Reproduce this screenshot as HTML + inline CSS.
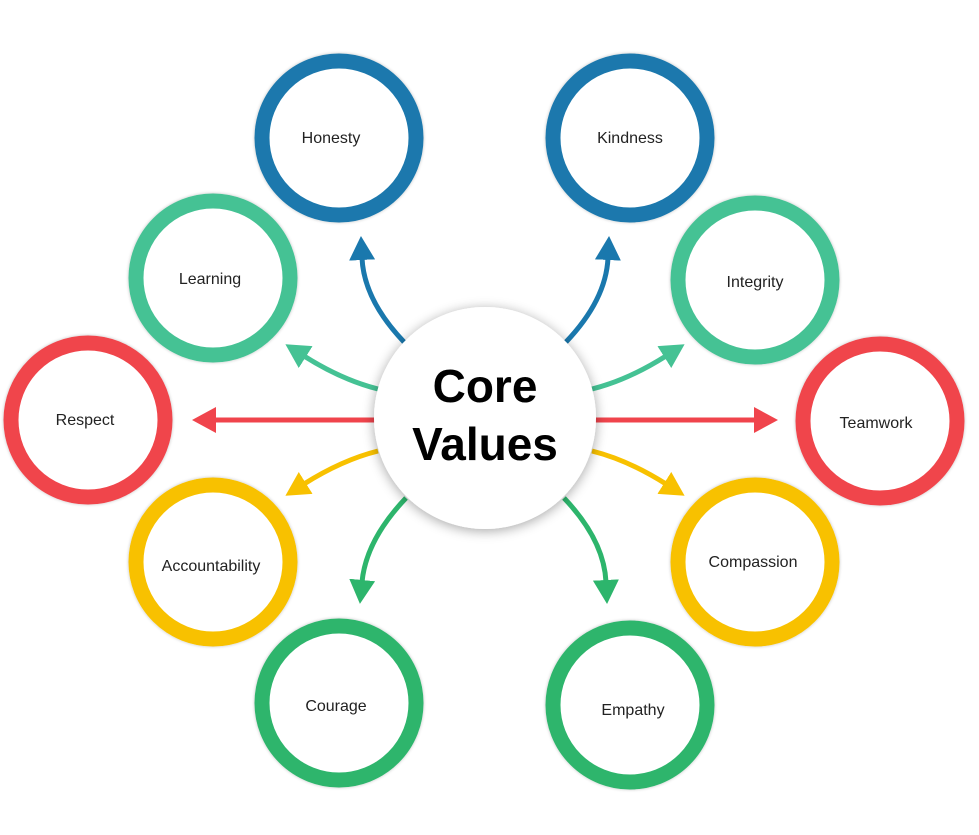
<!DOCTYPE html>
<html><head><meta charset="utf-8">
<style>
html,body{margin:0;padding:0;background:#fff;}
svg{display:block;}
text{font-family:"Liberation Sans",sans-serif;}
</style></head>
<body>
<svg width="979" height="835" viewBox="0 0 979 835" xmlns="http://www.w3.org/2000/svg">
<defs>
  <filter id="sh" x="-30%" y="-30%" width="160%" height="160%">
    <feGaussianBlur in="SourceAlpha" stdDeviation="6"/>
    <feOffset dx="0" dy="2"/>
    <feComponentTransfer><feFuncA type="linear" slope="0.35"/></feComponentTransfer>
    <feMerge><feMergeNode/><feMergeNode in="SourceGraphic"/></feMerge>
  </filter>
  <filter id="rs" x="-10%" y="-10%" width="120%" height="120%">
    <feGaussianBlur in="SourceAlpha" stdDeviation="1.5"/>
    <feComponentTransfer><feFuncA type="linear" slope="0.25"/></feComponentTransfer>
    <feMerge><feMergeNode/><feMergeNode in="SourceGraphic"/></feMerge>
  </filter>
  <marker id="mb" markerUnits="userSpaceOnUse" markerWidth="30" markerHeight="30" refX="2" refY="13" orient="auto"><path d="M0,0 L24,13 L0,26 Z" fill="#1a78ad"/></marker>
  <marker id="mt" markerUnits="userSpaceOnUse" markerWidth="30" markerHeight="30" refX="2" refY="13" orient="auto"><path d="M0,0 L24,13 L0,26 Z" fill="#45c294"/></marker>
  <marker id="mr" markerUnits="userSpaceOnUse" markerWidth="30" markerHeight="30" refX="2" refY="13" orient="auto"><path d="M0,0 L24,13 L0,26 Z" fill="#f0444c"/></marker>
  <marker id="my" markerUnits="userSpaceOnUse" markerWidth="30" markerHeight="30" refX="2" refY="13" orient="auto"><path d="M0,0 L24,13 L0,26 Z" fill="#f8c100"/></marker>
  <marker id="mg" markerUnits="userSpaceOnUse" markerWidth="30" markerHeight="30" refX="2" refY="13" orient="auto"><path d="M0,0 L24,13 L0,26 Z" fill="#2db56c"/></marker>
</defs>

<!-- arrows -->
<g fill="none" stroke-width="5">
  <path d="M404,342 Q364,300 362,258" stroke="#1a78ad" marker-end="url(#mb)"/>
  <path d="M566,342 Q606,300 608,258" stroke="#1a78ad" marker-end="url(#mb)"/>
  <path d="M378,389 Q342,380 304,356" stroke="#45c294" marker-end="url(#mt)"/>
  <path d="M592,389 Q628,380 666,356" stroke="#45c294" marker-end="url(#mt)"/>
  <path d="M380,420 L214,420" stroke="#f0444c" marker-end="url(#mr)"/>
  <path d="M590,420 L756,420" stroke="#f0444c" marker-end="url(#mr)"/>
  <path d="M378,451 Q342,460 304,484" stroke="#f8c100" marker-end="url(#my)"/>
  <path d="M592,451 Q628,460 666,484" stroke="#f8c100" marker-end="url(#my)"/>
  <path d="M406,498 Q366,540 362,582" stroke="#2db56c" marker-end="url(#mg)"/>
  <path d="M564,498 Q604,540 606,582" stroke="#2db56c" marker-end="url(#mg)"/>
</g>

<!-- rings -->
<g fill="#fff" stroke-width="15" filter="url(#rs)">
  <circle cx="339" cy="138" r="77" stroke="#1a78ad"/>
  <circle cx="630" cy="138" r="77" stroke="#1a78ad"/>
  <circle cx="213" cy="278" r="77" stroke="#45c294"/>
  <circle cx="755" cy="280" r="77" stroke="#45c294"/>
  <circle cx="88" cy="420" r="77" stroke="#f0444c"/>
  <circle cx="880" cy="421" r="77" stroke="#f0444c"/>
  <circle cx="213" cy="562" r="77" stroke="#f8c100"/>
  <circle cx="755" cy="562" r="77" stroke="#f8c100"/>
  <circle cx="339" cy="703" r="77" stroke="#2db56c"/>
  <circle cx="630" cy="705" r="77" stroke="#2db56c"/>
</g>

<!-- center -->
<circle cx="485" cy="418" r="111" fill="#fff" filter="url(#sh)"/>
<text x="485" y="402" font-size="46" font-weight="bold" text-anchor="middle" fill="#000">Core</text>
<text x="485" y="460" font-size="46" font-weight="bold" text-anchor="middle" fill="#000">Values</text>

<g font-size="16" text-anchor="middle" fill="#222">
  <text x="331" y="143">Honesty</text>
  <text x="630" y="143">Kindness</text>
  <text x="210" y="284">Learning</text>
  <text x="755" y="287">Integrity</text>
  <text x="85" y="425">Respect</text>
  <text x="876" y="428">Teamwork</text>
  <text x="211" y="571">Accountability</text>
  <text x="753" y="567">Compassion</text>
  <text x="336" y="711">Courage</text>
  <text x="633" y="715">Empathy</text>
</g>
</svg>
</body></html>
